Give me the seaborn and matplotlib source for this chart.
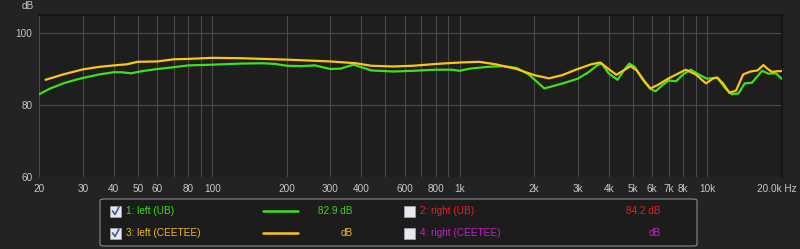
import numpy as np
import pandas as pd
import seaborn as sns
import matplotlib
matplotlib.use("Agg")
import matplotlib.pyplot as plt
from matplotlib.patches import FancyBboxPatch, Rectangle
from matplotlib.lines import Line2D
import matplotlib.transforms as mtransforms

# ---------------- data ----------------
green_freq = [20, 22, 25, 28, 30, 35, 40, 43, 47, 52, 60, 70, 80, 100, 130, 160, 180, 200,
              230, 260, 300, 330, 372, 440, 540, 650, 800, 930, 1000, 1100, 1300, 1500, 1700,
              1900, 2050, 2200, 2400, 2700, 3000, 3300, 3600, 3750, 4000, 4350, 4600, 4850,
              5100, 5500, 5900, 6200, 6600, 7000, 7500, 8000, 8600, 9300, 10000, 10600, 11000,
              11800, 12600, 13400, 14200, 15200, 16000, 16700, 17700, 19000, 20000]
green_db = [83.0, 84.5, 86.0, 87.0, 87.5, 88.5, 89.1, 89.1, 88.8, 89.4, 90.0, 90.5, 91.0, 91.2,
            91.5, 91.6, 91.4, 90.9, 90.8, 91.0, 90.0, 90.1, 91.2, 89.6, 89.3, 89.5, 89.8, 89.8,
            89.5, 90.1, 90.6, 90.8, 90.3, 88.5, 86.5, 84.6, 85.3, 86.3, 87.3, 89.0, 91.0, 91.6,
            88.8, 87.0, 89.5, 91.5, 90.6, 87.0, 84.5, 83.8, 85.5, 86.8, 86.6, 88.5, 89.8, 88.4,
            87.3, 87.5, 87.6, 84.8, 83.0, 83.2, 86.0, 86.2, 88.0, 89.5, 88.7, 88.8, 87.3]

yellow_freq = [21.2, 25, 30, 35, 40, 45, 50, 60, 70, 80, 100, 130, 200, 300, 380, 440, 540, 650,
               800, 1000, 1200, 1400, 1700, 2000, 2300, 2600, 3000, 3400, 3700, 4000, 4300, 4600,
               4900, 5200, 5600, 5900, 6300, 7000, 8200, 9000, 9900, 10600, 11000, 11600, 12300,
               13100, 14000, 15000, 16000, 16900, 17600, 18300, 19300, 20000]
yellow_db = [87.0, 88.5, 89.9, 90.6, 91.0, 91.3, 92.0, 92.1, 92.7, 92.8, 93.1, 93.0, 92.6, 92.1,
             91.6, 90.9, 90.7, 90.9, 91.4, 91.8, 92.0, 91.3, 90.0, 88.3, 87.4, 88.3, 90.0, 91.3,
             91.8, 90.0, 88.4, 89.6, 90.8, 89.6, 86.5, 84.6, 85.5, 87.4, 89.8, 88.5, 86.0, 87.4,
             87.6, 86.0, 83.4, 84.0, 88.5, 89.3, 89.6, 91.1, 90.0, 89.2, 89.4, 89.4]

series_names = ["1: left (UB)", "3: left (CEETEE)"]

xtick_vals = [20, 30, 40, 50, 60, 80, 100, 200, 300, 400, 600, 800, 1000, 2000, 3000, 4000,
              5000, 6000, 7000, 8000, 10000, 20000]
xtick_labels = ["20", "30", "40", "50", "60", "80", "100", "200", "300", "400", "600", "800",
                "1k", "2k", "3k", "4k", "5k", "6k", "7k", "8k", "10k", "20.0k Hz"]
ytick_vals = [60, 80, 100]

legend_labels = ["1: left (UB)", "2: right (UB)", "3: left (CEETEE)", "4: right (CEETEE)"]
legend_values = ["82.9 dB", "84.2 dB", "dB", "dB"]
legend_checked = [True, False, True, False]

# ---------------- style ----------------
GREEN = "#3ee01c"
YELLOW = "#fcc419"
FIG_BG = "#232323"
AX_BG = "#1e1e1e"
GRID = "#4a4a4a"
TXT = "#c8c8c8"

sns.set_theme(style="dark")
plt.rcParams["font.family"] = ["Liberation Sans", "DejaVu Sans"]

df = pd.concat([
    pd.DataFrame({"freq": green_freq, "db": green_db, "series": series_names[0]}),
    pd.DataFrame({"freq": yellow_freq, "db": yellow_db, "series": series_names[1]}),
])

fig = plt.figure(figsize=(8.0, 2.49), dpi=100, facecolor=FIG_BG)
W, H = 800, 249
ax = fig.add_axes([39.3 / W, (H - 177) / H, (781.5 - 39.3) / W, (177 - 15) / H])
ax.set_facecolor(AX_BG)

ax.set_xscale("log")
ax.set_xlim(20, 20000)
ax.set_ylim(60, 105)

# grid lines
minor = []
for dec in [10, 100, 1000, 10000]:
    for m in range(1, 10):
        v = dec * m
        if 20 <= v <= 20000:
            minor.append(v)
for v in minor:
    ax.axvline(v, color=GRID, lw=0.8, zorder=0)
for v in ytick_vals:
    ax.axhline(v, color=GRID, lw=0.8, zorder=0)

sns.lineplot(data=df, x="freq", y="db", hue="series", palette=[GREEN, YELLOW],
             hue_order=series_names, sort=False, estimator=None, lw=1.6, ax=ax, legend=False,
             zorder=3)

ax.grid(False)
for s in ax.spines.values():
    s.set_visible(False)
for side in ["right", "top"]:
    ax.spines[side].set_visible(True)
    ax.spines[side].set_color("#151515")
    ax.spines[side].set_linewidth(1.5)

ax.set_xticks(xtick_vals)
ax.set_xticklabels(xtick_labels)
ax.xaxis.set_minor_locator(matplotlib.ticker.NullLocator())
ax.set_yticks(ytick_vals)
ax.set_yticklabels([str(v) for v in ytick_vals])
ax.tick_params(axis="both", length=0, colors=TXT, labelsize=7.2)
ax.tick_params(axis="x", pad=5)
ax.tick_params(axis="y", pad=5)
ax.set_xlabel("")
ax.set_ylabel("")

# last label ("20.0k Hz") is right-aligned near the figure edge in the reference
lbl = ax.get_xticklabels()[-1]
lbl.set_horizontalalignment("right")
lbl.set_transform(lbl.get_transform() + mtransforms.ScaledTranslation(15.5 / 100, 0, fig.dpi_scale_trans))

fig.text(28 / W, 1 - 6 / H, "dB", color=TXT, fontsize=7.2, ha="center", va="center")

# ---------------- legend panel ----------------
def px(x, y):
    return x / W, 1 - y / H

box = FancyBboxPatch(px(100, 246), (697 - 100) / W, (246 - 199) / H,
                     boxstyle="round,pad=0,rounding_size=0.006",
                     transform=fig.transFigure, facecolor="#1c1c1c",
                     edgecolor="#8a8a8a", lw=0.8, zorder=1)
fig.add_artist(box)

text_colors = [GREEN, "#e8201c", "#f0b820", "#c81ec8"]
value_colors = ["#44cc22", "#e8201c", "#f0b820", "#c81ec8"]
line_colors = [GREEN, None, YELLOW, None]
positions = [(110, 211), (404, 211), (110, 233), (404, 233)]
value_x = [353, 661, 353, 661]

for i in range(4):
    cx, cy = positions[i]
    rect = Rectangle(px(cx, cy + 5.5), 11 / W, 11 / H, transform=fig.transFigure,
                     facecolor="#e8e8f0", edgecolor="#a0a0a8", lw=0.6, zorder=2)
    fig.add_artist(rect)
    if legend_checked[i]:
        fig.add_artist(Line2D([px(cx + 2.5, 0)[0], px(cx + 5, 0)[0], px(cx + 9, 0)[0]],
                              [px(0, cy)[1], px(0, cy + 3.5)[1], px(0, cy - 4)[1]],
                              transform=fig.transFigure, color="#3a5aa8", lw=1.2, zorder=3))
    fig.text(*px(cx + 16, cy), legend_labels[i], color=text_colors[i], fontsize=7.2,
             ha="left", va="center")
    fig.text(*px(value_x[i], cy), legend_values[i], color=value_colors[i], fontsize=7.2,
             ha="right", va="center")
    if line_colors[i] is not None:
        fig.add_artist(Line2D([263 / W, 298 / W], [px(0, cy)[1]] * 2, transform=fig.transFigure,
                              color=line_colors[i], lw=1.8, zorder=3))

fig.savefig("out.png", dpi=100, facecolor=FIG_BG)
